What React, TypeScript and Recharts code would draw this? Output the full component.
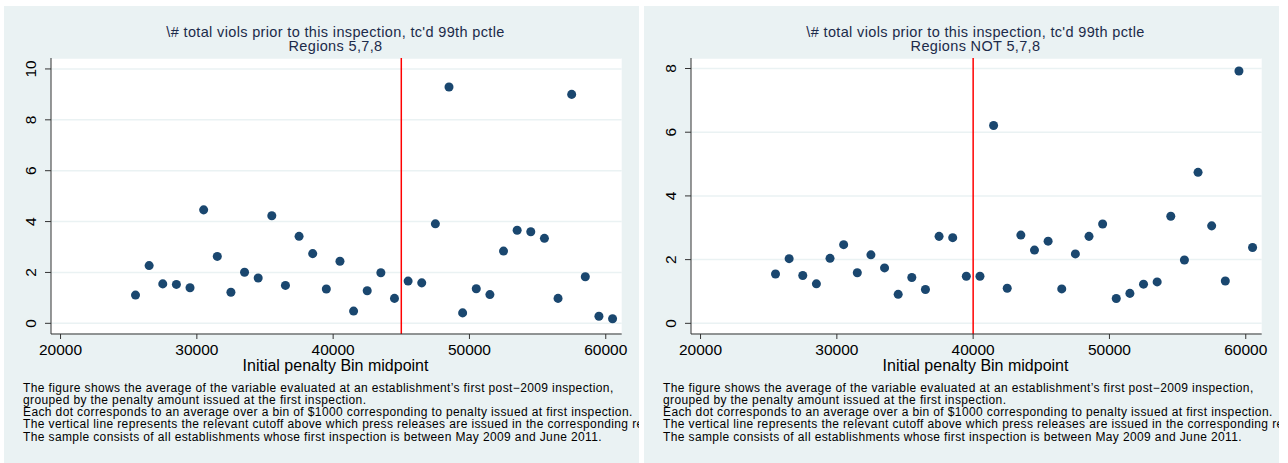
import React from 'react';
import { ScatterChart, Scatter, XAxis, YAxis, CartesianGrid, ReferenceLine } from 'recharts';

// bin midpoints (initial penalty, $1000 bins)
const binMidpoints = [
  25500, 26500, 27500, 28500, 29500, 30500, 31500, 32500, 33500, 34500, 35500, 36500,
  37500, 38500, 39500, 40500, 41500, 42500, 43500, 44500, 45500, 46500, 47500, 48500,
  49500, 50500, 51500, 52500, 53500, 54500, 55500, 56500, 57500, 58500, 59500, 60500,
];

// avg # total viols prior, regions 5,7,8
const violsRegions578 = [
  1.11, 2.27, 1.55, 1.53, 1.4, 4.46, 2.63, 1.22, 2.01, 1.78, 4.23, 1.49,
  3.42, 2.74, 1.35, 2.44, 0.48, 1.28, 1.99, 0.98, 1.66, 1.59, 3.91, 9.29,
  0.41, 1.36, 1.13, 2.84, 3.66, 3.6, 3.34, 0.98, 9.0, 1.83, 0.28, 0.18,
];

// avg # total viols prior, regions NOT 5,7,8
const violsOtherRegions = [
  1.55, 2.03, 1.5, 1.24, 2.04, 2.47, 1.59, 2.15, 1.74, 0.91, 1.44, 1.06,
  2.73, 2.69, 1.48, 1.48, 6.21, 1.1, 2.77, 2.3, 2.58, 1.08, 2.18, 2.73,
  3.12, 0.78, 0.94, 1.23, 1.3, 3.36, 1.99, 4.74, 3.06, 1.33, 7.92, 2.38,
];

const xTicks = [20000, 30000, 40000, 50000, 60000];
const yTicksLeft = [0, 2, 4, 6, 8, 10];
const yTicksRight = [0, 2, 4, 6, 8];

const footnotes = [
  'The figure shows the average of the variable evaluated at an establishment\u2019s first post\u22122009 inspection,',
  'grouped by the penalty amount issued at the first inspection.',
  'Each dot corresponds to an average over a bin of $1000 corresponding to penalty issued at first inspection.',
  'The vertical line represents the relevant cutoff above which press releases are issued in the corresponding region.',
  'The sample consists of all establishments whose first inspection is between May 2009 and June 2011.',
];

const FONT = '"Liberation Sans", Arial, Helvetica, sans-serif';
const BG = '#eaf2f3';
const NAVY = '#1a476f';
const AXIS = '#333333';

const XTick = (props: any) => {
  const { x, y, payload } = props;
  return (
    <text x={x} y={y + 14} textAnchor="middle" fontSize={15.5} fontFamily={FONT} fill="#000">
      {payload.value}
    </text>
  );
};

const YTick = (props: any) => {
  const { x, y, payload } = props;
  return (
    <text
      transform={`translate(${x - 13},${y}) rotate(-90)`}
      textAnchor="middle"
      dy="0.36em"
      fontSize={15.5}
      fontFamily={FONT}
      fill="#000"
    >
      {payload.value}
    </text>
  );
};

interface PanelProps {
  left: number;
  subtitle: string;
  values: number[];
  yDomain: [number, number];
  yTicks: number[];
  cutoff: number;
}

const PANEL_W = 635;

function Panel({ left, subtitle, values, yDomain, yTicks, cutoff }: PanelProps) {
  const points = binMidpoints.map((x, i) => ({ x, y: values[i] }));
  return (
    <div
      style={{
        position: 'absolute',
        left,
        top: 6,
        width: PANEL_W,
        height: 457,
        background: BG,
        overflow: 'hidden',
        fontFamily: FONT,
      }}
    >
      <div
        style={{
          position: 'absolute',
          left: 0,
          width: 663,
          top: 18.6,
          textAlign: 'center',
          color: '#1c2b4a',
          fontSize: 14.5,
          letterSpacing: 0.35,
          lineHeight: '14.5px',
          whiteSpace: 'nowrap',
        }}
      >
        <div>\# total viols prior to this inspection, tc'd 99th pctle</div>
        <div>{subtitle}</div>
      </div>
      <ScatterChart
        width={PANEL_W}
        height={358}
        margin={{ top: 52, right: 17.3, bottom: 0, left: 0 }}
        style={{ position: 'absolute', left: 0, top: 0 }}
      >
        <CartesianGrid horizontal vertical={false} fill="#ffffff" stroke={BG} strokeWidth={1.5} />
        <XAxis
          type="number"
          dataKey="x"
          domain={[19300, 61170]}
          ticks={xTicks}
          allowDataOverflow
          height={30}
          stroke={AXIS}
          tickSize={5}
          tick={<XTick />}
        />
        <YAxis
          type="number"
          dataKey="y"
          domain={yDomain}
          ticks={yTicks}
          allowDataOverflow
          width={47}
          stroke={AXIS}
          tickSize={6}
          tick={<YTick />}
        />
        <ReferenceLine x={cutoff} stroke="#ff0000" strokeWidth={1.5} />
        <Scatter data={points} fill={NAVY} shape="circle" isAnimationActive={false} />
      </ScatterChart>
      <div
        style={{
          position: 'absolute',
          left: 0,
          width: 663,
          top: 352,
          textAlign: 'center',
          fontSize: 16,
          lineHeight: '16px',
          color: '#000',
          whiteSpace: 'nowrap',
        }}
      >
        Initial penalty Bin midpoint
      </div>
      <div
        style={{
          position: 'absolute',
          left: 19,
          top: 375.5,
          fontSize: 12,
          letterSpacing: 0.38,
          lineHeight: '12.3px',
          color: '#000',
          whiteSpace: 'nowrap',
        }}
      >
        {footnotes.map((t) => (
          <div key={t}>{t}</div>
        ))}
      </div>
    </div>
  );
}

export default function App() {
  return (
    <div style={{ position: 'absolute', left: 0, top: 0, width: 1288, height: 463, background: '#fff' }}>
      <Panel
        left={4}
        subtitle="Regions 5,7,8"
        values={violsRegions578}
        yDomain={[-0.42, 10.43]}
        yTicks={yTicksLeft}
        cutoff={45000}
      />
      <Panel
        left={644}
        subtitle="Regions NOT 5,7,8"
        values={violsOtherRegions}
        yDomain={[-0.335, 8.33]}
        yTicks={yTicksRight}
        cutoff={40000}
      />
    </div>
  );
}
